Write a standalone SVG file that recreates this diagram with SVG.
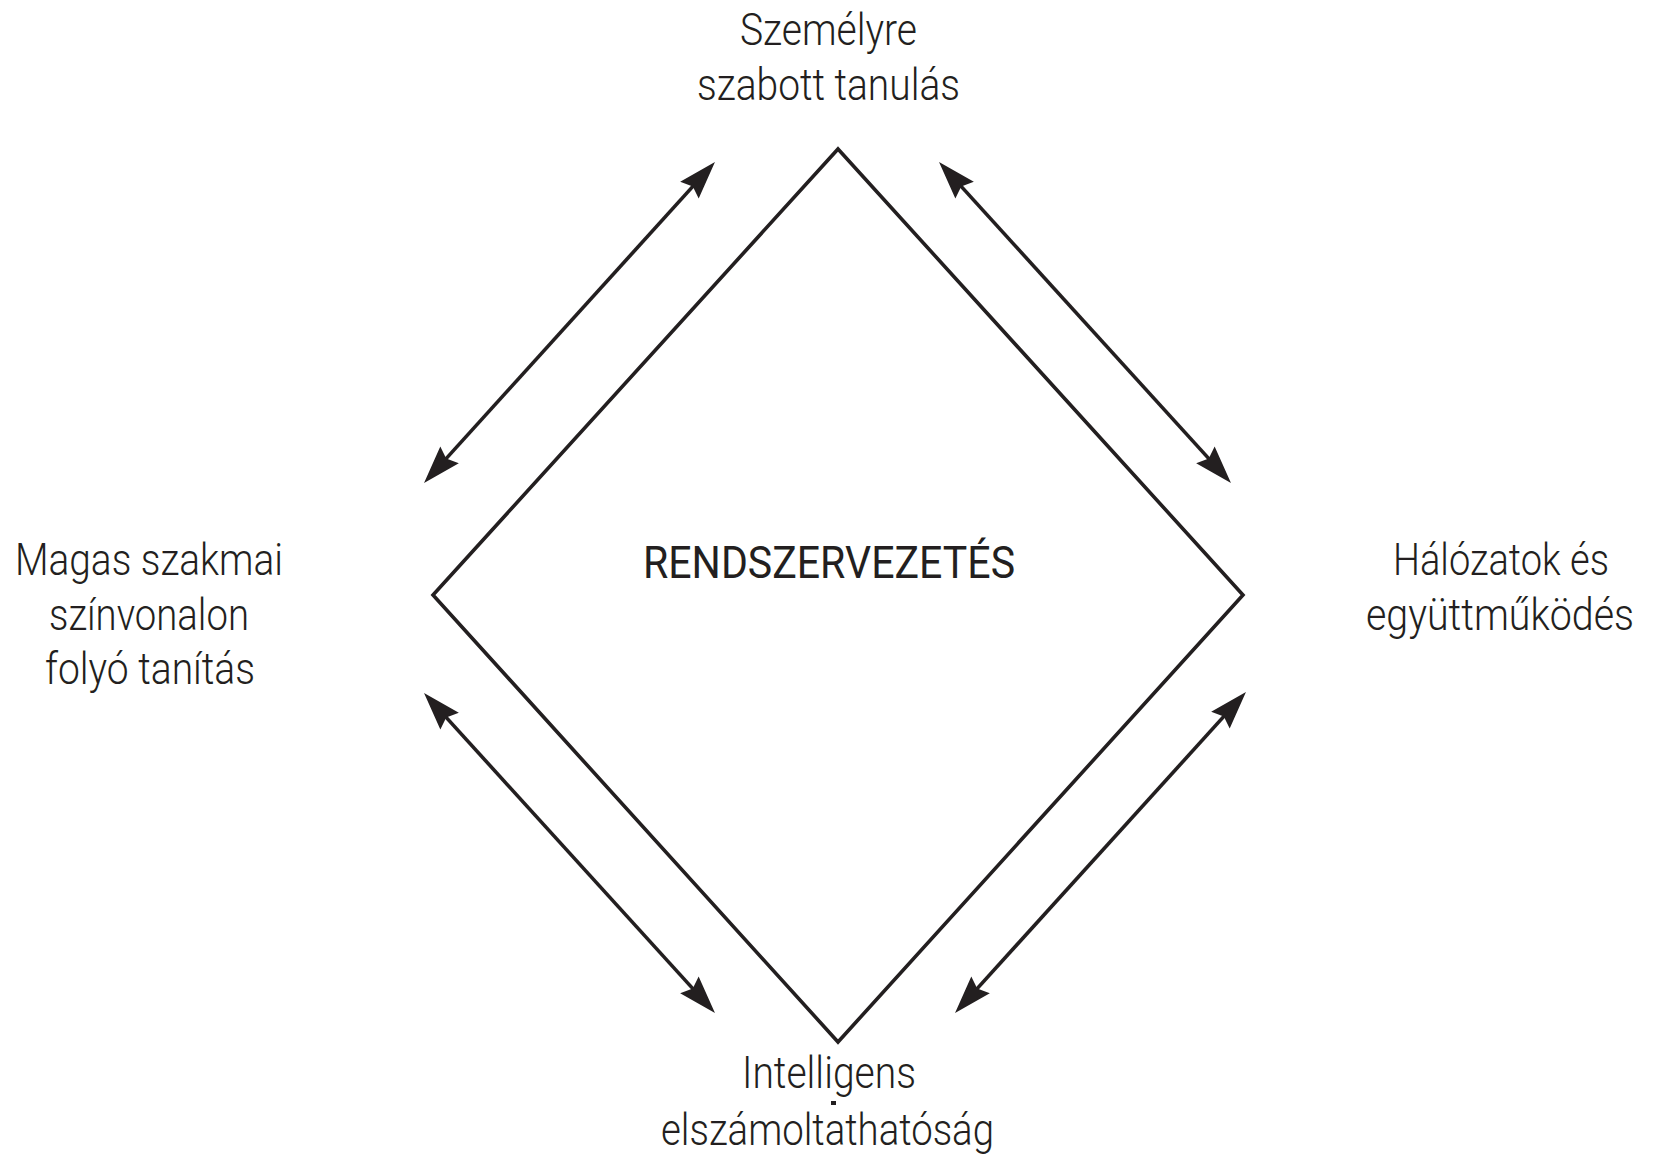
<svg xmlns="http://www.w3.org/2000/svg" width="1654" height="1154" viewBox="0 0 1654 1154">
<style>
.lbl{font-family:Roboto,"Liberation Sans",sans-serif;font-size:44px;font-weight:300;fill:#231f20;text-anchor:middle}
.ctr{font-family:Roboto,"Liberation Sans",sans-serif;font-size:45px;fill:#231f20;text-anchor:middle}
.edge{stroke:#231f20;stroke-width:3.6;fill:none}
</style>
<defs>
<marker id="ah" viewBox="0 -13 40 26" markerWidth="40" markerHeight="26" refX="26" refY="0" orient="auto-start-reverse" markerUnits="userSpaceOnUse" overflow="visible">
<path d="M0,-12.5 L38,0 L0,12.5 L5,0 Z" fill="#231f20"/>
</marker>
</defs>
<rect width="1654" height="1154" fill="#fff"/>
<g id="center">
<polygon points="838,149 1243,595 838,1042 433,595" fill="none" stroke="#231f20" stroke-width="3.6" stroke-linejoin="miter"/>
<text class="ctr" x="829" y="578" textLength="372" lengthAdjust="spacingAndGlyphs">RENDSZERVEZETÉS</text>
</g>
<g id="top">
<text class="lbl" x="828.5" y="45" textLength="177" lengthAdjust="spacingAndGlyphs">Személyre</text>
<text class="lbl" x="828.5" y="100" textLength="263" lengthAdjust="spacingAndGlyphs">szabott tanulás</text>
</g>
<g id="left">
<text class="lbl" x="149" y="575" textLength="268" lengthAdjust="spacingAndGlyphs">Magas szakmai</text>
<text class="lbl" x="149" y="630" textLength="200" lengthAdjust="spacingAndGlyphs">színvonalon</text>
<text class="lbl" x="150" y="684" textLength="210" lengthAdjust="spacingAndGlyphs">folyó tanítás</text>
</g>
<g id="right">
<text class="lbl" x="1501" y="575" textLength="216" lengthAdjust="spacingAndGlyphs">Hálózatok és</text>
<text class="lbl" x="1500" y="630" textLength="268" lengthAdjust="spacingAndGlyphs">együttműködés</text>
</g>
<g id="bottom">
<text class="lbl" x="829" y="1088" textLength="174" lengthAdjust="spacingAndGlyphs">Intelligens</text>
<text class="lbl" x="827.5" y="1145" textLength="333" lengthAdjust="spacingAndGlyphs">elszámoltathatóság</text>
<rect x="831" y="1101" width="5" height="4" fill="#231f20"/>
</g>
<g id="connectors">
<line class="edge" x1="432.1" y1="474.1" x2="706.9" y2="170.9" marker-start="url(#ah)" marker-end="url(#ah)"/>
<line class="edge" x1="947.1" y1="170.9" x2="1222.9" y2="474.1" marker-start="url(#ah)" marker-end="url(#ah)"/>
<line class="edge" x1="432.1" y1="701.9" x2="706.9" y2="1004.1" marker-start="url(#ah)" marker-end="url(#ah)"/>
<line class="edge" x1="1237.9" y1="700.9" x2="963.1" y2="1004.1" marker-start="url(#ah)" marker-end="url(#ah)"/>
</g>
</svg>
